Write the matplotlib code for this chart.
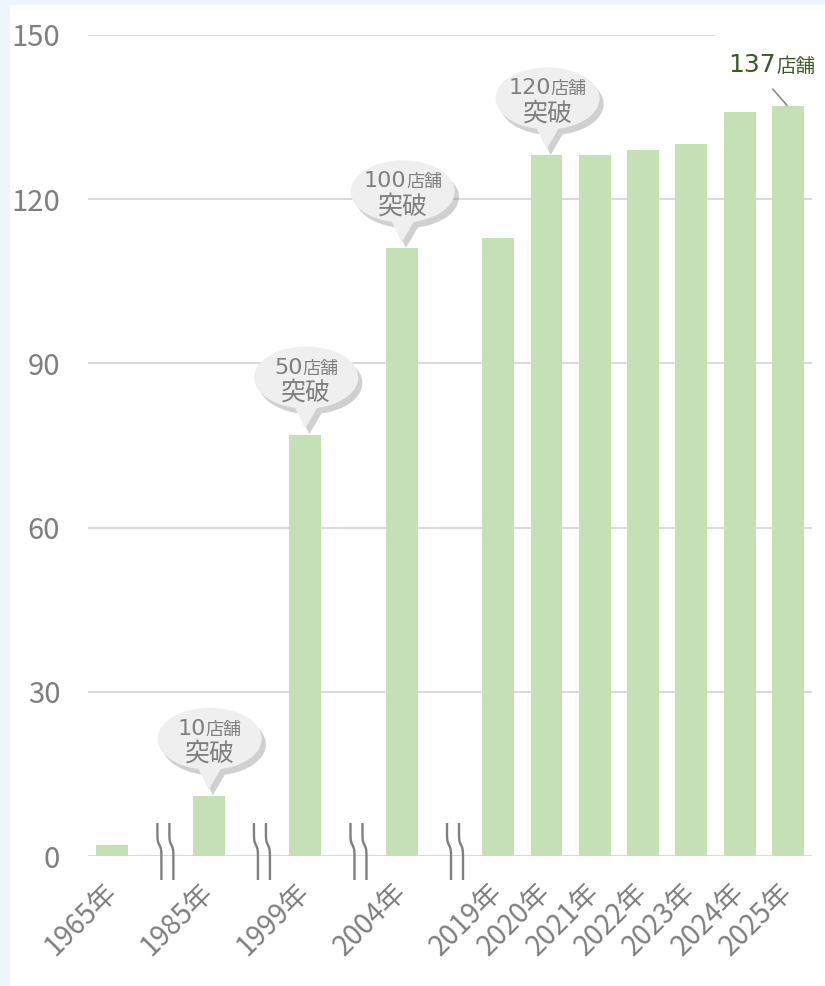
import numpy as np
import matplotlib
matplotlib.use('Agg')
import matplotlib.pyplot as plt
from matplotlib.path import Path
from matplotlib.patches import PathPatch, Rectangle
import matplotlib.transforms as mtransforms
import matplotlib.patheffects as pe

plt.rcParams['font.family'] = ['DejaVu Sans', 'Noto Sans CJK JP']
AXFONT = ['Noto Sans CJK JP', 'DejaVu Sans']

# ---------------- data ----------------
years = ['1965年', '1985年', '1999年', '2004年', '2019年', '2020年', '2021年',
         '2022年', '2023年', '2024年', '2025年']
stores = [2, 11, 77, 111, 113, 128, 128, 129, 130, 136, 137]
break_after = ['1965年', '1985年', '1999年', '2004年']
milestone_years = ['1985年', '1999年', '2004年', '2020年']
milestone_counts = [10, 50, 100, 120]
yticks = [0, 30, 60, 90, 120, 150]
unit = '店舗'
breakthrough = '突破'

# ---------------- style ----------------
BAR = '#c5e0b4'
GRID = '#d9d9d9'
TXT = '#7f7f7f'
GREEN = '#3b5a23'

# slot positions (a gap slot after each break)
pos, breaks = [], []
p = 0
for y in years:
    pos.append(p)
    if y in break_after:
        breaks.append(p + 1)
        p += 2
    else:
        p += 1

W, H = 825, 986
fig = plt.figure(figsize=(W / 100, H / 100), dpi=100, facecolor='#eef5fc')
fig.patches.append(Rectangle((10 / W, 0), 1, (H - 5) / H, transform=fig.transFigure,
                             fc='white', ec='none', zorder=-10))
ax = fig.add_axes([88 / W, 130 / H, (812 - 88) / W, (951 - 130) / H])
ax.set_facecolor('none')

ax.bar(pos, stores, width=0.66, color=BAR, zorder=2)
ax.set_xlim(-0.5, p - 0.5)
ax.set_ylim(0, 150)
ax.set_yticks(yticks)
ax.yaxis.grid(True, color=GRID, lw=1.4)
ax.set_axisbelow(True)
for s in ax.spines.values():
    s.set_visible(False)
ax.tick_params(axis='y', length=0, pad=20, labelsize=21, labelcolor=TXT)
ax.tick_params(axis='x', length=0, pad=23, labelsize=20, labelcolor=TXT)
for lab in ax.get_yticklabels():
    lab.set_family(AXFONT)
ax.set_xticks(pos)
ax.set_xticklabels(years, rotation=45, ha='right', va='center', rotation_mode='anchor',
                   family=AXFONT)


def px_trans(x, y):
    """pixel-unit transform anchored at data point (x, y)"""
    return mtransforms.Affine2D() + mtransforms.ScaledTranslation(x, y, ax.transData)


# axis break marks
for b in breaks:
    T = px_trans(b, 0)
    yy = np.linspace(-24, 33, 60)
    shift = 2 - 2 * np.tanh((yy - 11) / 4.0)
    for dx in (-3, 9):
        ax.plot(dx + shift, yy, color='#7f7f7f', lw=1.7, transform=T,
                clip_on=False, zorder=5, solid_capstyle='butt')

fig.canvas.draw()
renderer = fig.canvas.get_renderer()


def two_part(T, x_center, y_base, num, size1, size2, color, zorder):
    t1 = ax.text(0, y_base, num, fontsize=size1, color=color, transform=T,
                 ha='left', va='baseline', zorder=zorder, clip_on=False)
    t2 = ax.text(0, y_base, unit, fontsize=size2, color=color, transform=T,
                 ha='left', va='baseline', zorder=zorder, clip_on=False)
    w1 = t1.get_window_extent(renderer).width
    w2 = t2.get_window_extent(renderer).width
    x0 = x_center - (w1 + w2) / 2
    t1.set_x(x0)
    t2.set_x(x0 + w1)


# milestone bubbles
for yr, cnt in zip(milestone_years, milestone_counts):
    i = years.index(yr)
    T = px_trans(pos[i], stores[i])
    cx, cy, a, bb = 1, 57, 52, 31
    d = np.degrees(np.arcsin(11 / a))
    th = np.radians(np.linspace(-90 + d, 270 - d, 120))
    verts = np.column_stack([cx + a * np.cos(th), cy + bb * np.sin(th)])
    verts = np.vstack([verts, [[0, 6]], verts[:1]])
    codes = [Path.MOVETO] + [Path.LINETO] * (len(verts) - 2) + [Path.CLOSEPOLY]
    patch = PathPatch(Path(verts, codes), transform=T, fc='#efefef', ec='none',
                      zorder=6, clip_on=False)
    patch.set_path_effects([pe.SimplePatchShadow(offset=(3, -4), shadow_rgbFace='#7a7a7a',
                                                 alpha=0.35), pe.Normal()])
    ax.add_patch(patch)
    two_part(T, cx, 61, str(cnt), 16, 13, TXT, 7)
    ax.text(cx, 35, breakthrough, fontsize=18, color=TXT, transform=T, ha='center',
            va='baseline', zorder=7, clip_on=False)

# last value label
T = px_trans(pos[-1], stores[-1])
ax.add_patch(Rectangle((-73, 26), 120, 52, transform=T, fc='white', ec='none',
                       zorder=1, clip_on=False))
two_part(T, -16, 34, str(stores[-1]), 18, 14, GREEN, 8)
ax.plot([-15, -1], [17, 1], color='#8c8c8c', lw=1.2, transform=T, clip_on=False, zorder=8)

fig.savefig('out.png', dpi=100, facecolor=fig.get_facecolor())
